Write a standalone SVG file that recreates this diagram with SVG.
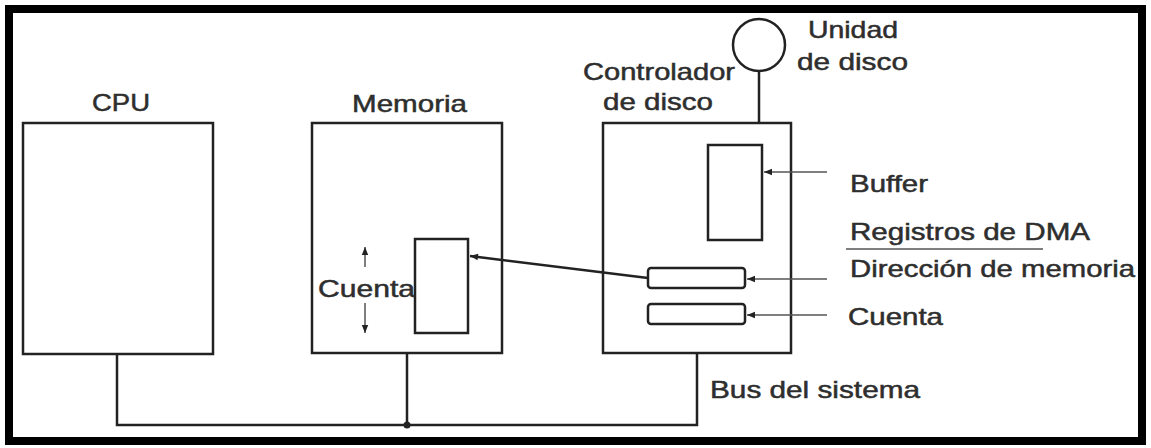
<svg xmlns="http://www.w3.org/2000/svg" width="1151" height="448" viewBox="0 0 1151 448">
<style>
text{font-family:"Liberation Sans",Arial,sans-serif;font-size:24px;fill:#2e2e2e;stroke:#2e2e2e;stroke-width:0.5}
.box{fill:none;stroke:#222;stroke-width:2.5}
.ln{fill:none;stroke:#222;stroke-width:2.5}
.thin{fill:none;stroke:#555;stroke-width:1.5}
</style>
<defs>
<marker id="ah" viewBox="0 0 10 10" refX="10" refY="5" markerWidth="10" markerHeight="8" markerUnits="userSpaceOnUse" orient="auto">
<path d="M0,1 L10,5 L0,9 Z" fill="#222"/>
</marker>
</defs>
<rect x="0" y="0" width="1151" height="448" fill="#fff"/>
<rect x="9" y="9" width="1133" height="432" fill="none" stroke="#000" stroke-width="8"/>

<g id="cpu">
<rect class="box" x="23" y="123" width="190" height="231"/>
<text x="92" y="111" textLength="58" lengthAdjust="spacingAndGlyphs">CPU</text>
</g>

<g id="memoria">
<rect class="box" x="312" y="123" width="190" height="230"/>
<text x="352" y="112" textLength="115" lengthAdjust="spacingAndGlyphs">Memoria</text>
<rect class="box" x="415" y="239" width="53" height="94"/>
<text x="318" y="297" textLength="97" lengthAdjust="spacingAndGlyphs">Cuenta</text>
</g>

<g id="controlador">
<rect class="box" x="603" y="123" width="188" height="230"/>
<text x="583" y="80" textLength="152" lengthAdjust="spacingAndGlyphs">Controlador</text>
<text x="603" y="110" textLength="110" lengthAdjust="spacingAndGlyphs">de disco</text>
<rect class="box" x="708" y="145" width="54" height="95"/>
<rect class="box" x="648" y="268" width="97" height="20" rx="3"/>
<rect class="box" x="648" y="304" width="97" height="20" rx="3"/>
</g>

<g id="unidad">
<circle class="box" cx="759" cy="45" r="26"/>
<text x="808" y="38" textLength="90" lengthAdjust="spacingAndGlyphs">Unidad</text>
<text x="797" y="70" textLength="111" lengthAdjust="spacingAndGlyphs">de disco</text>
</g>

<g id="etiquetas">
<text x="850" y="192" textLength="78" lengthAdjust="spacingAndGlyphs">Buffer</text>
<text x="850" y="240" textLength="240" lengthAdjust="spacingAndGlyphs">Registros de DMA</text>
<line class="thin" x1="846" y1="249" x2="1043" y2="249"/>
<text x="850" y="277" textLength="285" lengthAdjust="spacingAndGlyphs">Dirección de memoria</text>
<text x="848" y="325" textLength="95" lengthAdjust="spacingAndGlyphs">Cuenta</text>
<text x="710" y="398" textLength="210" lengthAdjust="spacingAndGlyphs">Bus del sistema</text>
</g>

<g id="conectores">
<line class="ln" x1="759" y1="71" x2="759" y2="123"/>
<polyline class="ln" points="117,354 117,425 697,425 697,353"/>
<line class="ln" x1="407" y1="353" x2="407" y2="425"/>
<circle cx="407" cy="425" r="3.5" fill="#222"/>
<line class="ln" x1="648" y1="278" x2="470" y2="256" marker-end="url(#ah)"/>
<line class="thin" x1="827" y1="172" x2="764" y2="172" marker-end="url(#ah)"/>
<line class="thin" x1="827" y1="279" x2="747" y2="279" marker-end="url(#ah)"/>
<line class="thin" x1="827" y1="315" x2="747" y2="315" marker-end="url(#ah)"/>
<line class="thin" x1="365" y1="267" x2="365" y2="247" marker-end="url(#ah)"/>
<line class="thin" x1="365" y1="303" x2="365" y2="333" marker-end="url(#ah)"/>
</g>
</svg>
